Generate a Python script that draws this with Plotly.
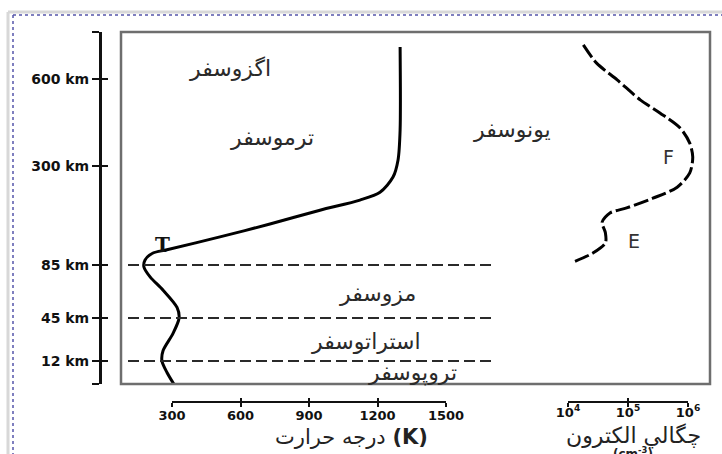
import numpy as np
import plotly.graph_objects as go

# ---------------- data ----------------
# the diagram's altitude scale is piecewise (non-linear) between these levels
alt_knots_km = [0, 12, 45, 85, 300, 600, 760]
alt_knots_pos = [0, 23, 66, 119, 218, 305, 352]

alt_tick_km = [0, 12, 45, 85, 300, 600, 760]
alt_tick_text = ["", "12 km", "45 km", "85 km", "300 km", "600 km", ""]

# temperature profile
temp_alt_km = [0, 6, 12, 20, 33, 45, 53, 66, 76, 83.5, 96, 111, 118, 146, 174, 204,
               226, 243, 276, 321, 424, 709]
temp_K = [308, 278, 256, 261, 304, 331, 322, 261, 204, 177, 182, 217, 278, 510, 729, 948,
          1123, 1211, 1268, 1290, 1299, 1299]

# electron density profile
dens_alt_km = [716, 654, 597, 528, 483, 431, 379, 331, 285, 254, 230, 209, 198, 178,
               155, 133, 111, 91]
dens_cm3 = [1.8e4, 3.0e4, 6.6e4, 1.6e5, 3.4e5, 7.4e5, 1.07e6, 1.2e6, 1.07e6, 6.6e5,
            2.6e5, 9.5e4, 5.0e4, 3.7e4, 4.2e4, 4.2e4, 2.6e4, 1.2e4]

temp_ticks = [300, 600, 900, 1200, 1500]
temp_tick_text = ["300", "600", "900", "1200", "1500"]
dens_ticks = [1e4, 1e5, 1e6]
dens_tick_text = ["10<sup>4</sup>", "10<sup>5</sup>", "10<sup>6</sup>"]

boundary_km = [85, 45, 12]

layer_names = ["اگزوسفر", "ترموسفر", "یونوسفر", "مزوسفر", "استراتوسفر", "تروپوسفر"]
region_names = ["F", "E"]

# ---------------- layout helpers ----------------
W, H = 722, 454
def px(x):
    return x / W
def py(y):
    return 1 - y / H
def alt(km):
    return np.interp(km, alt_knots_km, alt_knots_pos)

BOX = (121, 32, 710, 384)          # left, top, right, bottom (pixels)
T_AX = (172, 446, 402)              # 300 K px, 1500 K px, axis y
D_AX = (568, 688, 402)              # 1e4 px, 1e6 px, axis y
ALT_AX_X = 100

t_per_px = (temp_ticks[-1] - temp_ticks[0]) / (T_AX[1] - T_AX[0])
x_range = [temp_ticks[0] + (BOX[0] - T_AX[0]) * t_per_px,
           temp_ticks[0] + (BOX[2] - T_AX[0]) * t_per_px]
dec_per_px = 2.0 / (D_AX[1] - D_AX[0])
d_range = [4 + (BOX[0] - D_AX[0]) * dec_per_px, 4 + (BOX[2] - D_AX[0]) * dec_per_px]
y_range = [alt_knots_pos[0], alt_knots_pos[-1]]

fig = go.Figure()

fig.add_trace(go.Scatter(
    x=temp_K, y=alt(temp_alt_km), mode="lines",
    line=dict(color="black", width=3, shape="spline", smoothing=0.8),
    showlegend=False, hoverinfo="skip"))

fig.add_trace(go.Scatter(
    x=dens_cm3, y=alt(dens_alt_km), xaxis="x3", mode="lines",
    line=dict(color="black", width=3, dash="15px,4px", shape="spline", smoothing=0.8),
    showlegend=False, hoverinfo="skip"))

# dummy traces so the display axes are drawn
for xa, ya in [("x2", "y"), ("x4", "y"), ("x5", "y"), ("x6", "y"), ("x", "y2")]:
    fig.add_trace(go.Scatter(x=[None], y=[None], xaxis=xa, yaxis=ya,
                             showlegend=False, hoverinfo="skip"))

tickfont = dict(family="DejaVu Sans", size=13, color="#111")
common = dict(showgrid=False, zeroline=False)

fig.update_layout(
    width=W, height=H,
    margin=dict(l=0, r=0, t=0, b=0, autoexpand=False),
    paper_bgcolor="white", plot_bgcolor="rgba(0,0,0,0)",
    xaxis=dict(domain=[px(BOX[0]), px(BOX[2])], range=x_range, visible=False, **common),
    xaxis3=dict(overlaying="x", type="log", range=d_range, visible=False, **common),
    yaxis=dict(domain=[py(BOX[3]), py(BOX[1])], range=y_range, anchor="free",
               position=px(ALT_AX_X), showline=True, linecolor="#111", linewidth=3,
               ticks="outside", ticklen=7, tickwidth=1.5, tickcolor="#111",
               tickvals=list(alt(alt_tick_km)),
               ticktext=["<b>%s</b>" % t if t else " " for t in alt_tick_text],
               tickfont=dict(family="DejaVu Sans", size=14, color="#111"),
               automargin=False, **common),
    yaxis2=dict(overlaying="y", range=y_range, anchor="free", position=px(ALT_AX_X),
                ticks="inside", ticklen=7, tickwidth=1.5, tickcolor="#111",
                tickvals=list(alt(alt_tick_km)), showticklabels=False,
                showline=False, automargin=False, **common),
    xaxis2=dict(domain=[px(T_AX[0]), px(T_AX[1])], range=[temp_ticks[0], temp_ticks[-1]],
                anchor="free", position=py(T_AX[2]), showline=True, linecolor="#111",
                linewidth=2, ticks="outside", ticklen=4, tickwidth=1.5, tickcolor="#111",
                tickvals=temp_ticks, ticktext=["<b>%s</b>" % t for t in temp_tick_text],
                tickfont=tickfont, ticklabelstandoff=-3, automargin=False, **common),
    xaxis5=dict(overlaying="x2", range=[temp_ticks[0], temp_ticks[-1]], anchor="free",
                position=py(T_AX[2]), ticks="inside", ticklen=4, tickwidth=1.5,
                tickcolor="#111", tickvals=temp_ticks, showticklabels=False,
                showline=False, automargin=False, **common),
    xaxis4=dict(domain=[px(D_AX[0]), px(D_AX[1])], type="log", range=[4, 6],
                anchor="free", position=py(D_AX[2]), showline=True, linecolor="#111",
                linewidth=2, ticks="outside", ticklen=4, tickwidth=1.5, tickcolor="#111",
                tickvals=dens_ticks, ticktext=["<b>%s</b>" % t for t in dens_tick_text],
                tickfont=tickfont, ticklabelstandoff=-6, automargin=False, **common),
    xaxis6=dict(overlaying="x4", type="log", range=[4, 6], anchor="free",
                position=py(D_AX[2]), ticks="inside", ticklen=4, tickwidth=1.5,
                tickcolor="#111", tickvals=dens_ticks, showticklabels=False,
                showline=False, automargin=False, **common),
)

shapes = []
# page frame (light gray + dotted blue)
shapes.append(dict(type="line", xref="paper", yref="paper", x0=px(8), x1=px(8),
                   y0=py(12), y1=py(454), line=dict(color="#d8d8d8", width=3)))
shapes.append(dict(type="line", xref="paper", yref="paper", x0=px(8), x1=px(722),
                   y0=py(12), y1=py(12), line=dict(color="#d8d8d8", width=3)))
shapes.append(dict(type="line", xref="paper", yref="paper", x0=px(13), x1=px(13),
                   y0=py(15), y1=py(454), line=dict(color="#5555aa", width=1.5, dash="dot")))
shapes.append(dict(type="line", xref="paper", yref="paper", x0=px(13), x1=px(722),
                   y0=py(15), y1=py(15), line=dict(color="#5555aa", width=1.5, dash="dot")))
# diagram box
shapes.append(dict(type="rect", xref="paper", yref="paper", x0=px(BOX[0]), x1=px(BOX[2]),
                   y0=py(BOX[3]), y1=py(BOX[1]), line=dict(color="#6e6e6e", width=2.5)))
# layer boundaries
for b in boundary_km:
    shapes.append(dict(type="line", xref="paper", yref="y", x0=px(128), x1=px(492),
                       y0=float(alt(b)), y1=float(alt(b)),
                       line=dict(color="#2a2a2a", width=1.8, dash="11px,5px")))
fig.update_layout(shapes=shapes)


def note(text, x, y, size, family="DejaVu Sans", color="#222"):
    return dict(text=text, x=px(x), y=py(y), xref="paper", yref="paper",
                xanchor="center", yanchor="middle", showarrow=False,
                font=dict(family=family, size=size, color=color))


label_pos = [(230, 68), (272, 138), (512, 129), (377, 293), (366, 341), (412, 373)]
ann = [note(name, x, y, 22, color="#2a2a2a") for name, (x, y) in zip(layer_names, label_pos)]
ann += [note(name, x, y, 19, color="#333") for name, (x, y) in
        zip(region_names, [(668, 157), (634, 241)])]
ann.append(note("<b>T</b>", 162, 245, 20, family="DejaVu Serif", color="#111"))
ann.append(note("درجه حرارت <b>(K)</b>", 351, 437, 21))
ann.append(note("چگالي الکترون", 633, 436, 22))
ann.append(note("<b>(cm<sup>-3</sup>)</b>", 633, 453, 12))
fig.update_layout(annotations=ann)

fig.write_html("out.html", config={"displayModeBar": False},
               post_script="document.body.style.margin='0';")
